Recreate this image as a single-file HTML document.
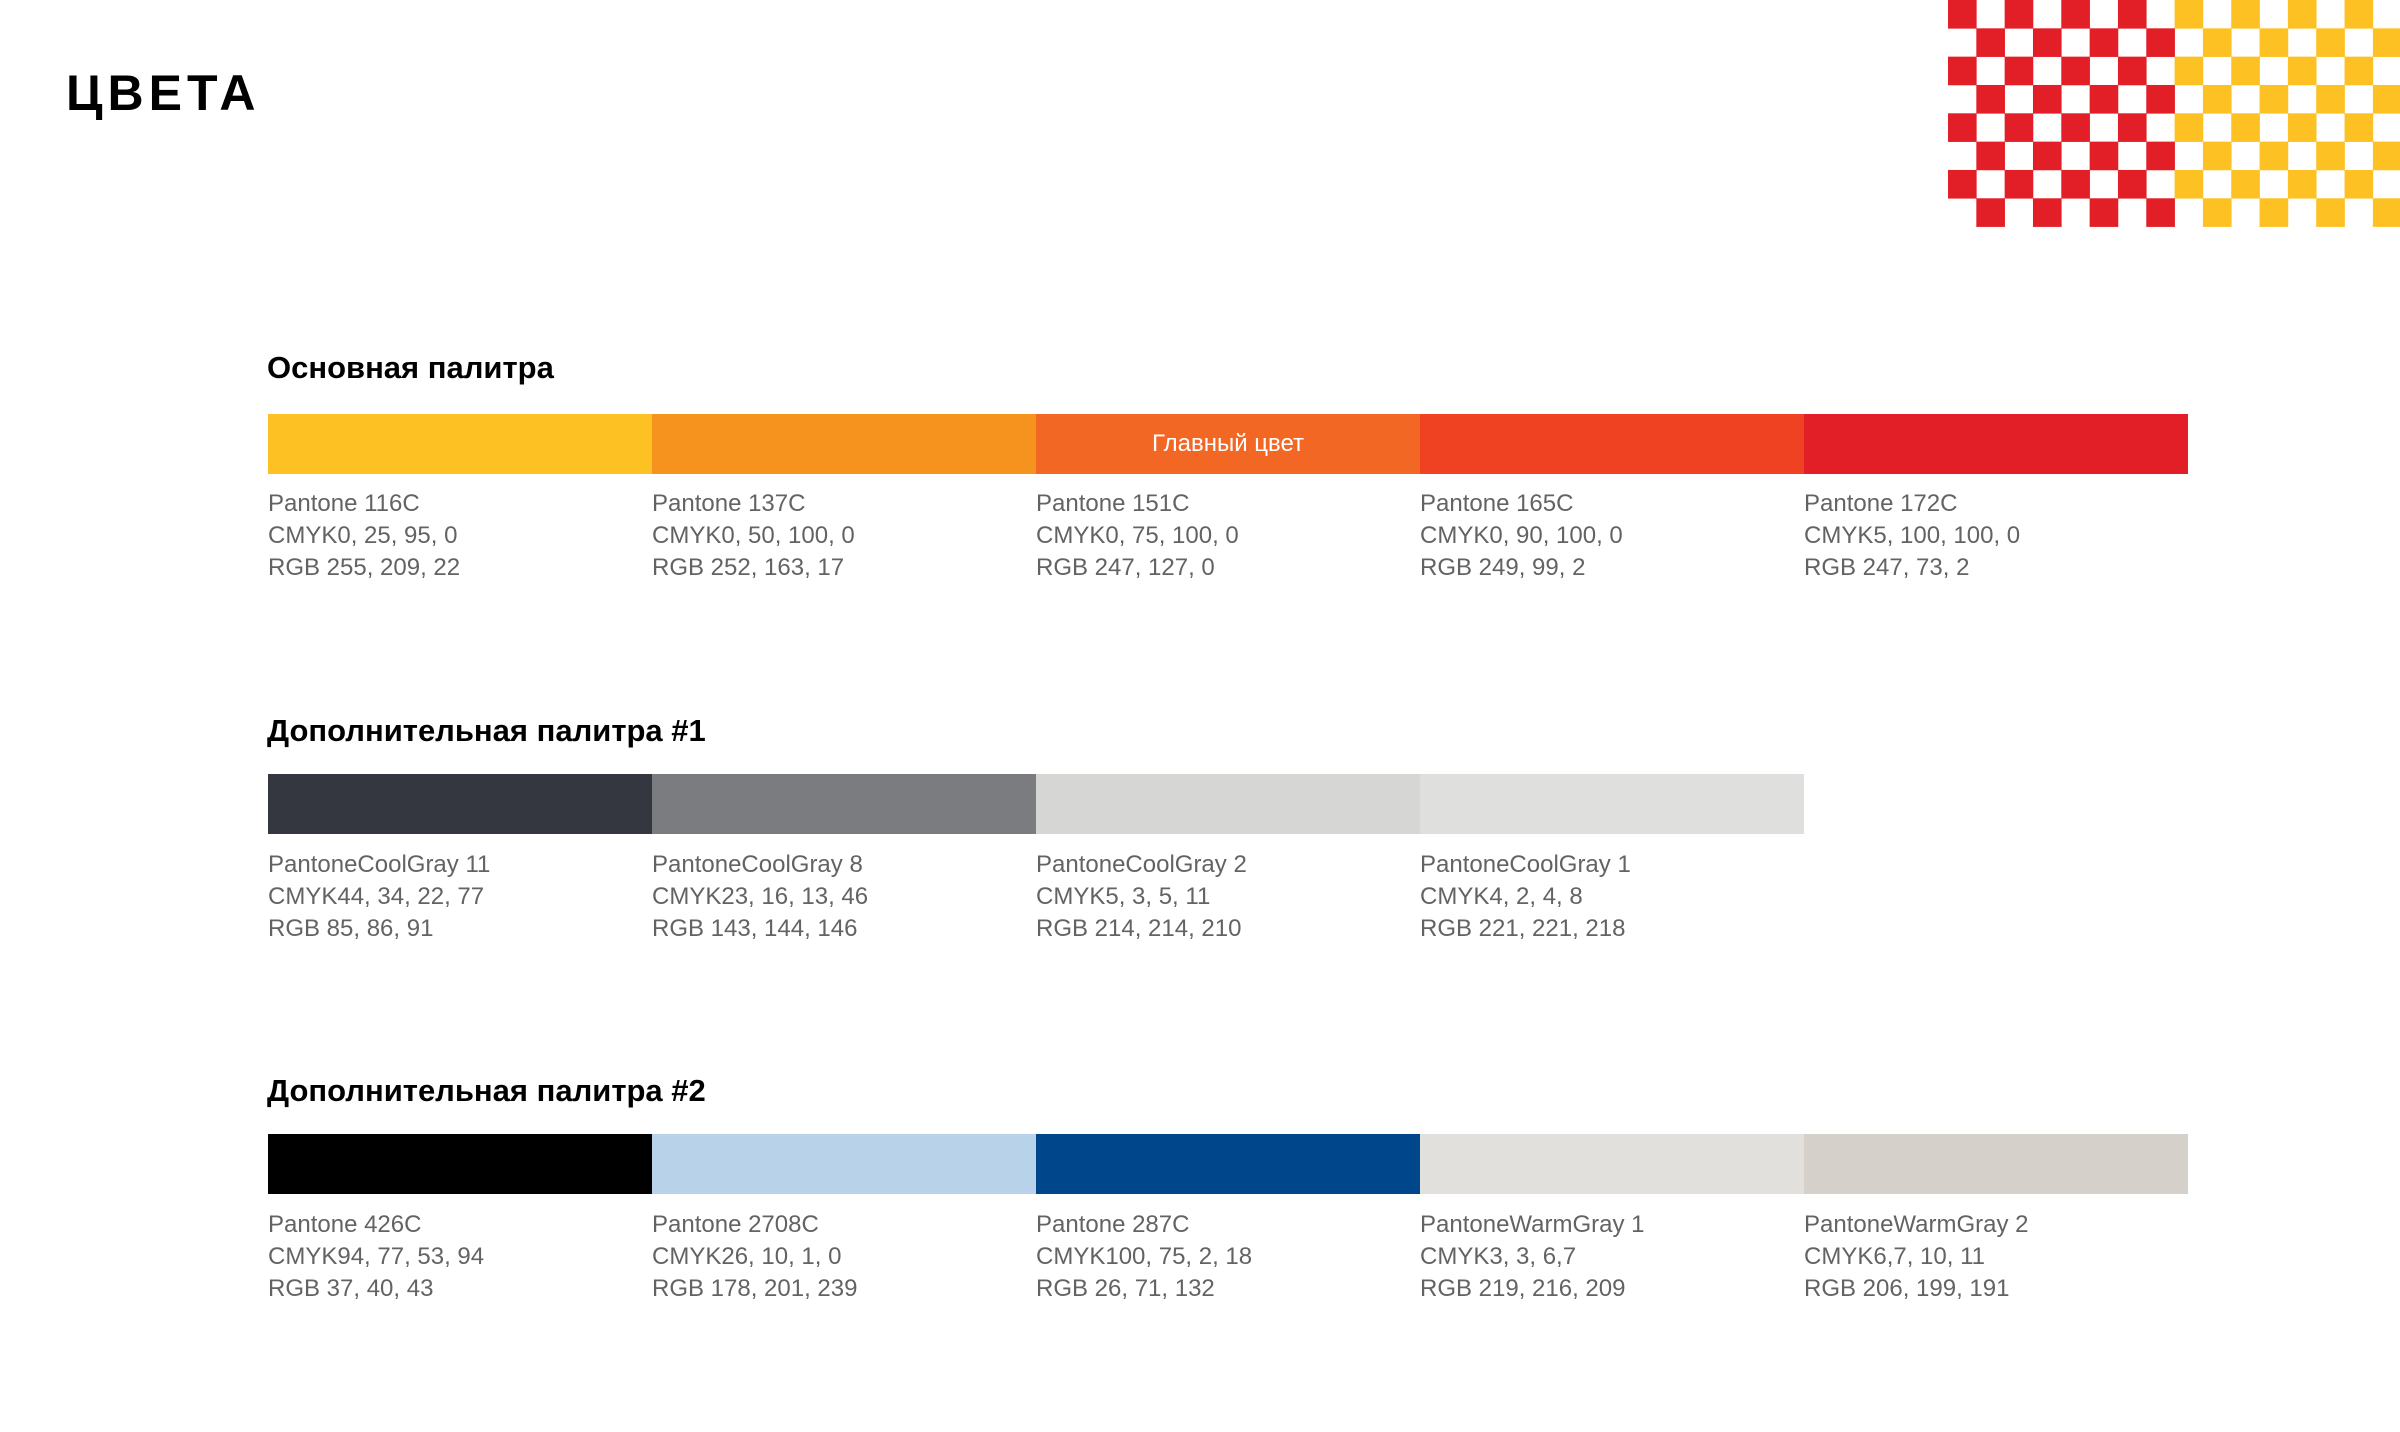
<!DOCTYPE html>
<html><head><meta charset="utf-8">
<style>
html,body{margin:0;padding:0;background:#fff;}
body{width:2400px;height:1432px;position:relative;overflow:hidden;font-family:"Liberation Sans","Noto Sans CJK SC",sans-serif;}
.t{position:absolute;white-space:nowrap;}
.title{left:66px;top:64px;font-size:50px;font-weight:bold;color:#000;letter-spacing:5px;}
.h{font-size:31px;font-weight:bold;color:#000;left:267px;}
.sw{position:absolute;height:60px;width:384px;}
.info{position:absolute;font-size:24px;line-height:32px;color:#636363;white-space:nowrap;}
</style></head><body>
<div class="t title">ЦВЕТА</div>
<svg style="position:absolute;left:0;top:0" width="2400" height="240">
<g id="cb"></g>
</svg>
<script>
(function(){var g=document.getElementById('cb');var s=226.6/8;var h='';
for(var r=0;r<8;r++){for(var c=0;c<16;c++){if((r+c)%2==0){var col=c<8?'#E21F26':'#FEC124';
h+='<rect x="'+(1948+c*s).toFixed(2)+'" y="'+(r*s).toFixed(2)+'" width="'+(s+0.3).toFixed(2)+'" height="'+(s+0.3).toFixed(2)+'" fill="'+col+'"/>';}}}
g.innerHTML=h;})();
</script>

<div class="t h" style="top:350px">Основная палитра</div>
<div class="sw" style="left:268px;top:414px;background:#FEC124"></div>
<div class="sw" style="left:652px;top:414px;background:#F6931F"></div>
<div class="sw" style="left:1036px;top:414px;background:#F26724;color:#fff;font-size:24px;line-height:60px;text-align:center">Главный цвет</div>
<div class="sw" style="left:1420px;top:414px;background:#EF4223"></div>
<div class="sw" style="left:1804px;top:414px;background:#E21F26"></div>
<div class="info" style="left:268px;top:488px">Pantone 116C<br>CMYK0, 25, 95, 0<br>RGB 255, 209, 22</div>
<div class="info" style="left:652px;top:488px">Pantone 137C<br>CMYK0, 50, 100, 0<br>RGB 252, 163, 17</div>
<div class="info" style="left:1036px;top:488px">Pantone 151C<br>CMYK0, 75, 100, 0<br>RGB 247, 127, 0</div>
<div class="info" style="left:1420px;top:488px">Pantone 165C<br>CMYK0, 90, 100, 0<br>RGB 249, 99, 2</div>
<div class="info" style="left:1804px;top:488px">Pantone 172C<br>CMYK5, 100, 100, 0<br>RGB 247, 73, 2</div>

<div class="t h" style="top:713px">Дополнительная палитра #1</div>
<div class="sw" style="left:268px;top:774px;background:#343640"></div>
<div class="sw" style="left:652px;top:774px;background:#7A7C80"></div>
<div class="sw" style="left:1036px;top:774px;background:#D6D6D4"></div>
<div class="sw" style="left:1420px;top:774px;background:#DFE0DE"></div>
<div class="info" style="left:268px;top:849px">PantoneCoolGray 11<br>CMYK44, 34, 22, 77<br>RGB 85, 86, 91</div>
<div class="info" style="left:652px;top:849px">PantoneCoolGray 8<br>CMYK23, 16, 13, 46<br>RGB 143, 144, 146</div>
<div class="info" style="left:1036px;top:849px">PantoneCoolGray 2<br>CMYK5, 3, 5, 11<br>RGB 214, 214, 210</div>
<div class="info" style="left:1420px;top:849px">PantoneCoolGray 1<br>CMYK4, 2, 4, 8<br>RGB 221, 221, 218</div>

<div class="t h" style="top:1073px">Дополнительная палитра #2</div>
<div class="sw" style="left:268px;top:1134px;background:#000000"></div>
<div class="sw" style="left:652px;top:1134px;background:#B7D2E9"></div>
<div class="sw" style="left:1036px;top:1134px;background:#00468B"></div>
<div class="sw" style="left:1420px;top:1134px;background:#E2E0DC"></div>
<div class="sw" style="left:1804px;top:1134px;background:#D5D0CA"></div>
<div class="info" style="left:268px;top:1209px">Pantone 426C<br>CMYK94, 77, 53, 94<br>RGB 37, 40, 43</div>
<div class="info" style="left:652px;top:1209px">Pantone 2708C<br>CMYK26, 10, 1, 0<br>RGB 178, 201, 239</div>
<div class="info" style="left:1036px;top:1209px">Pantone 287C<br>CMYK100, 75, 2, 18<br>RGB 26, 71, 132</div>
<div class="info" style="left:1420px;top:1209px">PantoneWarmGray 1<br>CMYK3, 3, 6,7<br>RGB 219, 216, 209</div>
<div class="info" style="left:1804px;top:1209px">PantoneWarmGray 2<br>CMYK6,7, 10, 11<br>RGB 206, 199, 191</div>
</body></html>
